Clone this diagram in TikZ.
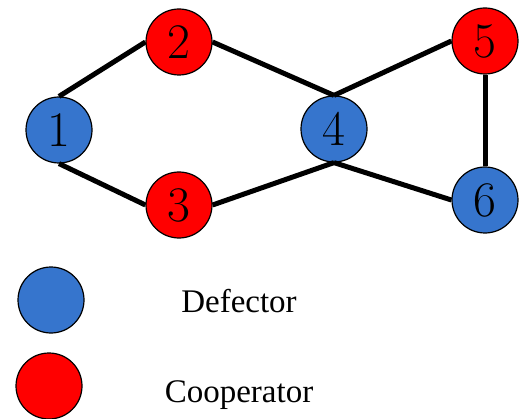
\documentclass[tikz,border=0pt]{standalone}
\usepackage{fontspec}
\setmainfont{Liberation Serif}
\usepackage{xcolor}
\usepackage{tikz}
\definecolor{defblue}{RGB}{54,117,205}
\definecolor{coopred}{RGB}{255,0,0}
\tikzset{
	agent/.style={circle,draw=black,line width=0.6pt,minimum size=33pt,inner sep=0pt,
		font=\fontsize{23}{26}\selectfont},
	D/.style={agent,fill=defblue},
	C/.style={agent,fill=coopred},
	lbl/.style={anchor=base,font=\fontsize{16.5}{19}\selectfont}
}

\begin{document}
\begin{tikzpicture}[x=0.5pt,y=0.5pt]
	\useasboundingbox (0,0) rectangle (524,418);
	\node[D] (n1) at (59,288) {$1$};
	\node[C] (n2) at (179,376) {$2$};
	\node[C] (n3) at (179,213) {$3$};
	\node[D] (n4) at (334,289) {$4$};
	\node[C] (n5) at (485,377) {$5$};
	\node[D] (n6) at (485,218) {$6$};
	%
	\path[line width=2.5pt]
	(n1.north) edge (n2.west)
	(n1.south) edge (n3.west)
	(n2.east) edge (n4.north)
	(n3.east) edge (n4.south)
	(n4.north) edge (n5.west)
	(n4.south) edge (n6.west)
	(n5.south) edge (n6.north);
	%
	\node[D] (keyD) at (51,118) {};
	\node[C] (keyC) at (49,32) {};
	\node[lbl] (txtD) at (239,106) {Defector};
	\node[lbl] (txtC) at (239,16) {Cooperator};
\end{tikzpicture}
\end{document}
